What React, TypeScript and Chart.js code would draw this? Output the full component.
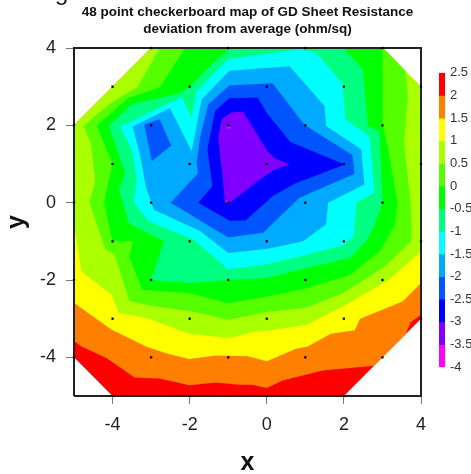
import React, { useEffect, useRef } from "react";
import { Chart, registerables } from "chart.js";

Chart.register(...registerables);

type Pt = [number, number];

const titleLines = ["48 point checkerboard map of GD Sheet Resistance", "deviation from average (ohm/sq)"];
const xTicks = [-4, -2, 0, 2, 4];
const yTicks = [-4, -2, 0, 2, 4];
const legendLevels = [2.5, 2, 1.5, 1, 0.5, 0, -0.5, -1, -1.5, -2, -2.5, -3, -3.5, -4];
const legendColors = ["#ff0000", "#ff8000", "#ffff00", "#aaff00", "#55ff00", "#00ff00", "#00ff80", "#00ffff", "#00aaff", "#0055ff", "#0000ff", "#8000ff", "#ff00ff"];

const sampleRows: [number, number[]][] = [
  [4, [-3, -1, 1, 3]],
  [3, [-4, -2, 0, 2, 4]],
  [2, [-5, -3, -1, 1, 3]],
  [1, [-4, -2, 0, 2, 4]],
  [0, [-5, -3, -1, 1, 3]],
  [-1, [-4, -2, 0, 2, 4]],
  [-2, [-5, -3, -1, 1, 3]],
  [-3, [-4, -2, 0, 2, 4]],
  [-4, [-5, -3, -1, 1, 3]],
  [-5, [-4, -2, 0, 2]],
];

const redArea: Pt[] = [[-5, 2], [-3, 4], [3, 4], [4, 3], [4, -3], [2, -5], [-4, -5], [-5, -4]];
const orangeArea: Pt[] = [[-5, -3.57], [-4.81, -3.72], [-4.16, -4.02], [-3.43, -4.52], [-2.78, -4.55], [-2.01, -4.72], [-1.32, -4.65], [-0.72, -4.71], [-0.4, -4.71], [0, -4.79], [0.41, -4.6], [1.45, -4.34], [2.78, -4.22], [3.6, -3.4], [3.73, -3.09], [4, -2.9], [4, 3], [3, 4], [-3, 4], [-5, 2]];
const yellowArea: Pt[] = [[-5, -2.59], [-4.67, -2.83], [-4.03, -3.28], [-3.13, -3.72], [-2.57, -3.91], [-2.01, -4.04], [-1.32, -3.95], [-0.49, -3.97], [0, -4.1], [0.76, -3.78], [1.06, -3.72], [1.66, -3.39], [2.28, -3.3], [2.42, -3], [3, -2.77], [3.53, -2.55], [4, -2.08], [4, 3], [3, 4], [-3, 4], [-5, 2]];
const yellowGreenArea: Pt[] = [[-5, -0.5], [-4.95, -0.83], [-4.81, -1.78], [-4.03, -2.38], [-3.84, -2.85], [-3.13, -2.98], [-2.01, -3.39], [-0.97, -3.5], [-0.32, -3.34], [0.16, -3.29], [1.03, -3.16], [2.06, -2.64], [3.18, -1.99], [4, -1.26], [4, 3], [3, 4], [-3, 4], [-5, 2]];
const limeArea: Pt[] = [[-2.78, 4], [-3.35, 2.99], [-4.02, 2.6], [-4.75, 1.99], [-4.56, 1.54], [-4.45, 0.55], [-4.6, 0], [-4.18, -1.22], [-3.95, -1.34], [-3.56, -2.54], [-2.96, -2.67], [-2, -2.8], [-1, -3.03], [0, -2.83], [1.03, -2.71], [1.98, -2.34], [3.01, -1.69], [3.75, -1.0], [3.75, -0.57], [3.73, 0], [3.56, 1.55], [3.66, 2.76], [3.6, 3.41], [3.02, 4]];
const greenArea: Pt[] = [[-2.12, 4], [-2.77, 2.99], [-3.6, 2.7], [-4.41, 1.99], [-4, 1], [-4.22, 0], [-4, -1], [-3.46, -1], [-3.57, -1.39], [-3.23, -2.25], [-2, -2.34], [-1, -2.6], [0, -2.43], [1.03, -2.21], [2.15, -1.87], [2.93, -1.26], [3.32, -0.57], [3.39, 0], [3.13, 1.47], [3, 2.03], [3, 4]];
const springArea: Pt[] = [[-4.1, 1.99], [-3.52, 2.53], [-2.21, 2.85], [-2, 3], [-1.4, 3.6], [-0.95, 4], [1.99, 4], [2.49, 3.45], [2.62, 1.98], [2.92, 1.85], [3, 0], [2.8, -0.57], [2.58, -1], [2.15, -1.43], [1.03, -1.69], [0, -1.95], [-1, -2], [-2, -2.08], [-3, -2], [-2.67, -1], [-3.58, -0.53], [-3.83, 0.34], [-3.67, 0.77]];
const cyanArea: Pt[] = [[-3.8, 1.97], [-2.21, 2.73], [-1.95, 2.19], [-1.82, 2.89], [-1, 3.71], [0.85, 3.97], [1.28, 3.88], [1.97, 3.06], [2.03, 2.16], [2.66, 1.72], [2.79, 0.26], [2.32, 0], [2.28, -0.57], [2.25, -0.87], [1.98, -1.1], [1.03, -1.35], [0, -1.59], [-1, -1.72], [-1.89, -0.96], [-3.06, -0.48], [-3.45, 0], [-3.37, 0.6], [-3.5, 1.37]];
const skyArea: Pt[] = [[-3.48, 1.97], [-2.51, 2.45], [-1.95, 1.33], [-1.69, 2.67], [-0.97, 3.41], [0.59, 3.53], [1.5, 2.5], [1.54, 1.98], [2.45, 1.38], [2.53, 0.47], [1.59, 0], [1.54, -0.56], [0.94, -1], [0.03, -1.19], [-1, -1.3], [-1.72, -0.74], [-2.93, -0.18], [-3.14, 0.42], [-3.28, 1.2]];
const azureArea: Pt[] = [[-0.97, 3.03], [0.15, 3.09], [0.98, 2.01], [2.22, 1.23], [2.28, 0.75], [1.46, 0.39], [0.85, 0.13], [0.12, -0.57], [-0.09, -0.78], [-1, -0.9], [-1.55, -0.57], [-2.49, 0], [-1.78, 0.77], [-1.82, 1.03], [-1.73, 1.68], [-1.52, 2.54]];
const azureLobe: Pt[] = [[-3.18, 2.02], [-2.78, 2.16], [-2.48, 1.48], [-2.98, 1.07]];
const blueArea: Pt[] = [[-0.97, 2.7], [-0.24, 2.72], [0.03, 2.28], [0.61, 1.57], [2.02, 0.99], [0.72, 0.49], [0.16, 0.17], [-0.55, -0.46], [-0.96, -0.47], [-1.78, 0], [-1.41, 0.43], [-1.54, 1.38], [-1.34, 2.37]];
const purpleArea: Pt[] = [[-0.91, 2.34], [-0.61, 2.35], [0.01, 1.34], [0.21, 1.15], [0.59, 0.99], [0.21, 0.86], [-0.18, 0.6], [-0.96, 0], [-1.09, 0.03], [-1.15, 0.73], [-1.26, 1.68], [-1.17, 2.16]];
const magentaTop: Pt[] = [[-1.03, 1.96], [-0.92, 1.96], [-0.98, 1.89]];
const magentaLow: Pt[] = [[-1.09, 0.03], [-1, 0.06], [-1, -0.02]];

const layers: [Pt[], string][] = [
  [redArea, "#ff0000"], [orangeArea, "#ff8000"], [yellowArea, "#ffff00"], [yellowGreenArea, "#aaff00"],
  [limeArea, "#55ff00"], [greenArea, "#00ff00"], [springArea, "#00ff80"], [cyanArea, "#00ffff"],
  [skyArea, "#00aaff"], [azureArea, "#0055ff"], [azureLobe, "#0055ff"], [blueArea, "#0000ff"],
  [purpleArea, "#8000ff"], [magentaTop, "#ff00ff"], [magentaLow, "#ff00ff"],
];

const frameCorners: Pt[] = [[-5, -5], [-5, 4], [4, 4], [4, -5]];
const FONT = "'Liberation Sans', Arial, sans-serif";
const clippedHeading = "g";

const clippedHeadingPlugin = {
  id: "clippedHeading",
  afterDraw(chart: any) {
    const { ctx } = chart;
    ctx.save();
    ctx.font = `24px ${FONT}`;
    ctx.fillStyle = "#111";
    ctx.textBaseline = "alphabetic";
    ctx.fillText(clippedHeading, 55, 0);
    ctx.restore();
  },
};

export default function App() {
  const mainRef = useRef<HTMLCanvasElement>(null);
  const barRef = useRef<HTMLCanvasElement>(null);

  useEffect(() => {
    const toXY = (pts: Pt[]) => pts.map(([x, y]) => ({ x, y }));
    const areaSets = layers.map(([pts, color]) => ({
      type: "scatter" as const,
      showLine: true,
      data: toXY(pts),
      backgroundColor: color,
      borderColor: color,
      borderWidth: 0,
      pointRadius: 0,
      fill: "shape",
      tension: 0,
    }));
    const samples = sampleRows.flatMap(([y, xs]) => xs.map((x) => ({ x, y })));

    const main = new Chart(mainRef.current!, {
      type: "scatter",
      data: {
        datasets: [
          { data: samples, pointRadius: 1.6, pointStyle: "rect", pointBackgroundColor: "#000", pointBorderWidth: 0, showLine: false, clip: false },
          { data: toXY(frameCorners.concat([frameCorners[0]])), showLine: true, borderColor: "#222", borderWidth: 2, pointRadius: 0, clip: false, fill: false },
          ...areaSets.reverse(),
        ] as any,
      },
      plugins: [clippedHeadingPlugin],
      options: {
        animation: false,
        responsive: false,
        layout: { padding: { top: 0, right: 50, bottom: 0, left: 0 } },
        plugins: {
          legend: { display: false },
          tooltip: { enabled: false },
          title: {
            display: true,
            fullSize: false,
            text: titleLines,
            color: "#111",
            font: { family: FONT, size: 13.5, weight: "bold", lineHeight: 1.26 },
            padding: { top: 4, bottom: 10 },
          },
        },
        scales: {
          x: {
            type: "linear",
            min: -5,
            max: 4,
            afterBuildTicks: (a: any) => { a.ticks = xTicks.map((value) => ({ value })); },
            afterFit: (a: any) => { a.height = 78; },
            grid: { drawOnChartArea: false, drawTicks: true, tickLength: 8, tickColor: "#777", tickWidth: 1 },
            border: { display: false },
            ticks: { color: "#222", font: { family: FONT, size: 18 }, padding: 10, maxRotation: 0 },
            title: { display: true, text: "x", color: "#111", font: { family: FONT, size: 25, weight: "bold" }, padding: { top: 0, bottom: -4 } },
          },
          y: {
            type: "linear",
            min: -5,
            max: 4,
            afterBuildTicks: (a: any) => { a.ticks = yTicks.map((value) => ({ value })); },
            afterFit: (a: any) => { a.width = 74; },
            grid: { drawOnChartArea: false, drawTicks: true, tickLength: 8, tickColor: "#777", tickWidth: 1 },
            border: { display: false },
            ticks: { color: "#222", font: { family: FONT, size: 18 }, padding: 10 },
            title: { display: true, text: "y", color: "#111", font: { family: FONT, size: 25, weight: "bold" }, padding: { top: 2, bottom: 0 } },
          },
        },
      } as any,
    });

    const bandSets = legendColors.map((color, i) => ({
      data: [[legendLevels[i + 1], legendLevels[i]]],
      backgroundColor: color,
      borderWidth: 0,
      grouped: false,
      barPercentage: 1,
      categoryPercentage: 1,
    }));
    const bar = new Chart(barRef.current!, {
      type: "bar",
      data: { labels: [""], datasets: bandSets as any },
      options: {
        animation: false,
        responsive: false,
        layout: { padding: { top: 10, bottom: 12, left: 0, right: 0 } },
        plugins: { legend: { display: false }, tooltip: { enabled: false } },
        scales: {
          x: { display: false, grid: { display: false } },
          y: {
            position: "right",
            min: -4,
            max: 2.5,
            afterBuildTicks: (a: any) => { a.ticks = legendLevels.map((value) => ({ value })); },
            afterFit: (a: any) => { a.width = 26; },
            grid: { display: false, drawTicks: false },
            border: { display: false },
            ticks: { color: "#333", font: { family: FONT, size: 13 }, padding: 5, autoSkip: false, maxRotation: 0, callback: (v: any) => String(v) },
          },
        },
      } as any,
    });

    return () => { main.destroy(); bar.destroy(); };
  }, []);

  return (
    <div style={{ position: "absolute", left: 0, top: 0, width: 471, height: 474, overflow: "hidden", background: "#fff" }}>
      <canvas ref={mainRef} width={471} height={474} style={{ position: "absolute", left: 0, top: 0 }} />
      <canvas ref={barRef} width={32} height={320} style={{ position: "absolute", left: 439, top: 60 }} />
    </div>
  );
}
